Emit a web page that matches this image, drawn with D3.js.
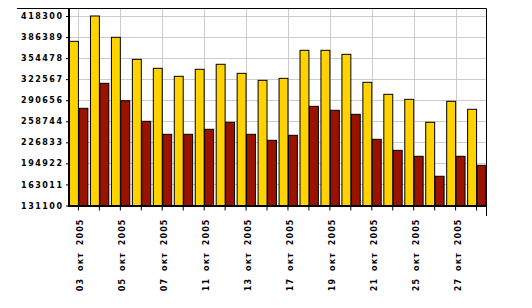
<!DOCTYPE html>
<html>
<head>
<meta charset="utf-8">
<script src="https://cdn.jsdelivr.net/npm/d3@7"></script>
<style>
  body { margin: 0; background: #fff; }
  svg text { font-family: "DejaVu Sans", sans-serif; font-weight: bold; font-size: 8px; fill: #000; }
</style>
</head>
<body>
<svg id="chart" width="532" height="308"></svg>
<script>
// data
const categories = ['03 окт 2005', '04 окт 2005', '05 окт 2005', '06 окт 2005', '07 окт 2005',
  '10 окт 2005', '11 окт 2005', '12 окт 2005', '13 окт 2005', '14 окт 2005',
  '17 окт 2005', '18 окт 2005', '19 окт 2005', '20 окт 2005', '21 окт 2005',
  '24 окт 2005', '25 окт 2005', '26 окт 2005', '27 окт 2005', '28 окт 2005'];
const seriesYellow = [379900, 418300, 386000, 352600, 339000, 326900, 337500, 345100, 331400, 320800,
  323800, 366300, 366300, 360200, 317800, 299600, 292000, 257200, 289000, 276900];
const seriesRed = [278400, 316300, 289900, 258700, 239000, 239000, 246600, 257200, 239000, 229900,
  237500, 281400, 275400, 269300, 231400, 214700, 205700, 175400, 205700, 192000];
const yTicks = [131100, 163011, 194922, 226833, 258744, 290656, 322567, 354478, 386389, 418300];

const svg = d3.select('#chart');
const plotLeft = 69, plotRight = 486, plotTop = 8, plotBottom = 205.5;

const x = d3.scaleBand().domain(categories).range([plotLeft, plotRight]).paddingInner(0.1).paddingOuter(0);
const sub = d3.scaleBand().domain(['y', 'r']).range([0, x.bandwidth()]);
const y = d3.scaleLinear().domain([131100, 418300]).range([plotBottom, 16]);

// grid
const grid = svg.append('g').attr('stroke', '#cccccc').attr('stroke-width', 1);
grid.selectAll('line.h').data(yTicks.slice(1)).enter().append('line')
  .attr('x1', plotLeft).attr('x2', plotRight)
  .attr('y1', d => Math.round(y(d)) + 0.5).attr('y2', d => Math.round(y(d)) + 0.5);
grid.selectAll('line.v').data(categories.filter((d, i) => i % 2 === 0)).enter().append('line')
  .attr('x1', d => Math.round(x(d) + x.bandwidth() / 2) + 0.5)
  .attr('x2', d => Math.round(x(d) + x.bandwidth() / 2) + 0.5)
  .attr('y1', plotTop).attr('y2', plotBottom);

// bars
const groups = svg.append('g').selectAll('g').data(categories).enter().append('g')
  .attr('transform', d => `translate(${x(d)},0)`);
groups.append('rect')
  .attr('x', sub('y') + 0.5).attr('width', sub.bandwidth() - 0.5)
  .attr('y', (d, i) => y(seriesYellow[i])).attr('height', (d, i) => plotBottom - y(seriesYellow[i]))
  .attr('fill', '#ffd200').attr('stroke', '#000').attr('stroke-width', 1);
groups.append('rect')
  .attr('x', sub('r') + 0.5).attr('width', sub.bandwidth() - 0.5)
  .attr('y', (d, i) => y(seriesRed[i])).attr('height', (d, i) => plotBottom - y(seriesRed[i]))
  .attr('fill', '#9a1200').attr('stroke', '#000').attr('stroke-width', 1);

// frame (top + right)
svg.append('path').attr('d', `M17,${plotTop + 0.5}H${plotRight + 0.5}V216`)
  .attr('fill', 'none').attr('stroke', '#000').attr('stroke-width', 1);

// y axis
const yAxis = svg.append('g').attr('transform', `translate(${plotLeft},0)`)
  .call(d3.axisLeft(y).tickValues(yTicks).tickSize(3).tickPadding(4).tickFormat(d3.format('d')));
yAxis.select('.domain').remove();
yAxis.selectAll('.tick line').attr('stroke', '#000');
yAxis.selectAll('.tick text').style('letter-spacing', '1.5px').attr('dx', '1.5px').attr('dy', '0.32em');
svg.append('line').attr('x1', plotLeft).attr('x2', plotLeft).attr('y1', plotTop).attr('y2', plotBottom + 1)
  .attr('stroke', '#000').attr('stroke-width', 2);

// x axis
const xAxis = svg.append('g').attr('transform', `translate(0,${plotBottom})`)
  .call(d3.axisBottom(x).tickSize(5).tickFormat((d, i) => i % 2 === 0 ? d : ''));
xAxis.select('.domain').remove();
xAxis.selectAll('.tick line').attr('stroke', '#000');
xAxis.selectAll('.tick text')
  .attr('text-anchor', 'end')
  .attr('transform', 'translate(5,13) rotate(-90)')
  .attr('x', 0).attr('y', 0).attr('dy', 0)
  .style('letter-spacing', '1.1px').style('word-spacing', '3px');
svg.append('line').attr('x1', plotLeft - 1).attr('x2', plotRight + 1).attr('y1', plotBottom + 0.5).attr('y2', plotBottom + 0.5)
  .attr('stroke', '#000').attr('stroke-width', 2);
</script>
</body>
</html>
